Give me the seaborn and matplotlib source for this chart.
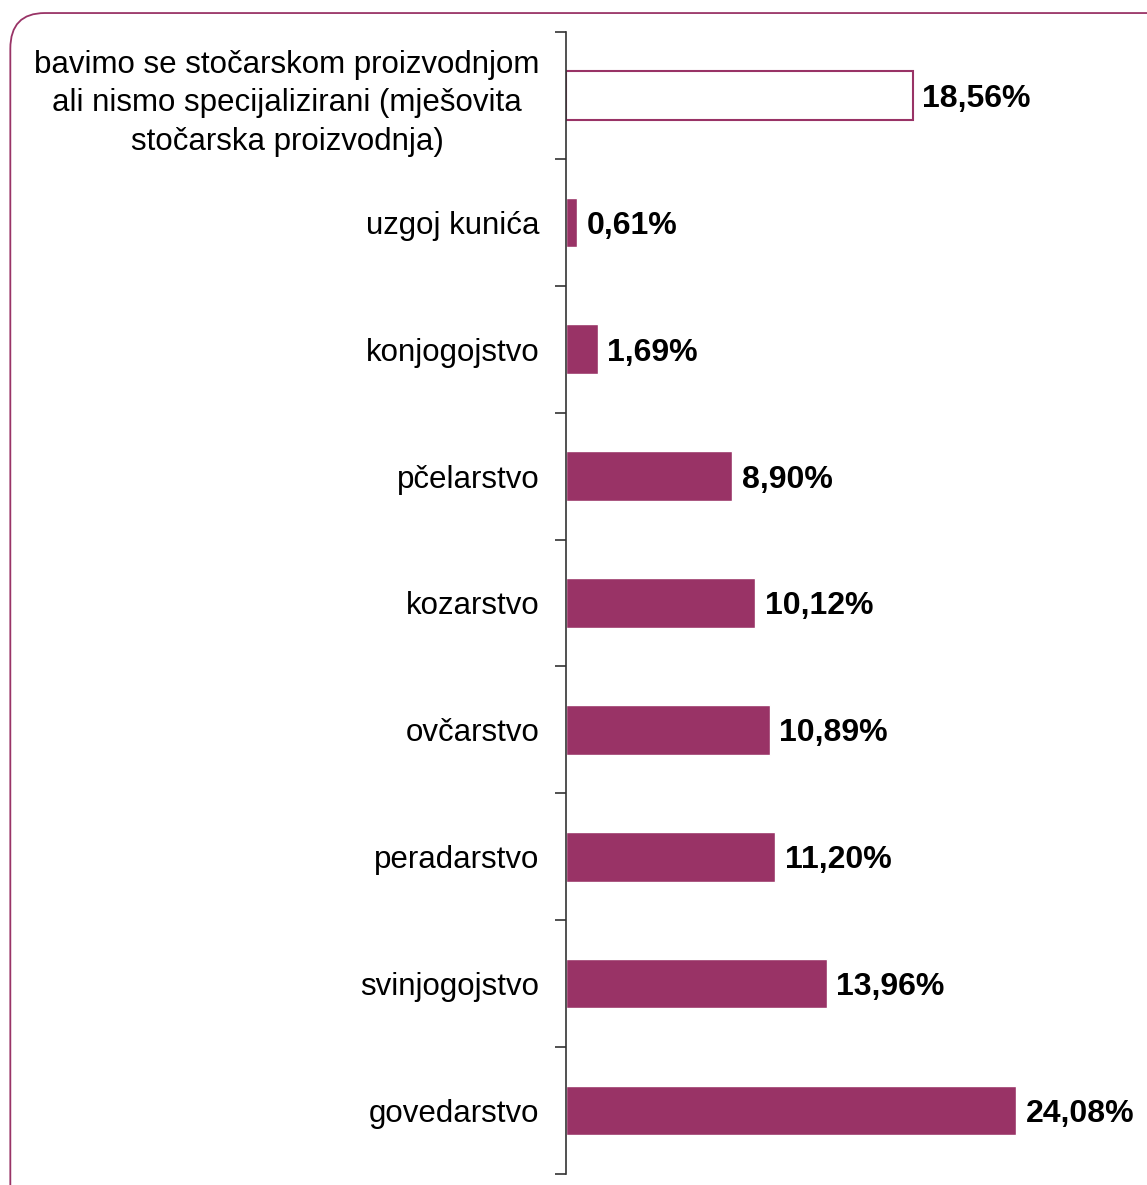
import pandas as pd
import seaborn as sns
import matplotlib.pyplot as plt
from matplotlib.patches import FancyBboxPatch
from matplotlib.ticker import FixedLocator

categories = [
    "bavimo se stočarskom proizvodnjom\nali nismo specijalizirani (mješovita\nstočarska proizvodnja)",
    "uzgoj kunića",
    "konjogojstvo",
    "pčelarstvo",
    "kozarstvo",
    "ovčarstvo",
    "peradarstvo",
    "svinjogojstvo",
    "govedarstvo",
]
values = [18.56, 0.61, 1.69, 8.90, 10.12, 10.89, 11.20, 13.96, 24.08]
labels = ["18,56%", "0,61%", "1,69%", "8,90%", "10,12%", "10,89%", "11,20%", "13,96%", "24,08%"]

df = pd.DataFrame({"cat": categories, "val": values})

sns.set_style("white")
plt.rcParams["font.family"] = ["Liberation Sans", "DejaVu Sans"]
plt.rcParams["text.color"] = "black"
plt.rcParams["ytick.color"] = "black"

purple = "#993366"
fig = plt.figure(figsize=(11.47, 11.85), dpi=100)
ax = fig.add_axes([0.4935, 0.0093, 0.4889, 0.9637])

sns.barplot(data=df, y="cat", x="val", orient="h", color=purple, width=0.39,
            saturation=1, ax=ax)
bars = ax.patches
bars[0].set_facecolor("white")
bars[0].set_edgecolor(purple)
bars[0].set_linewidth(1.5)

for bar, lab in zip(bars, labels):
    ax.text(bar.get_width() + 0.5, bar.get_y() + bar.get_height() / 2, lab,
            va="center_baseline", ha="left", fontsize=23, fontweight="bold", color="black")

ax.set_xlim(0, 30)
ax.set_ylim(len(categories) - 0.5, -0.5)
ax.set_xlabel("")
ax.set_ylabel("")
ax.set_xticks([])
for s in ["top", "right", "bottom"]:
    ax.spines[s].set_visible(False)
ax.spines["left"].set_color("#333333")
ax.spines["left"].set_linewidth(1.2)
ax.yaxis.set_minor_locator(FixedLocator([i - 0.5 for i in range(len(categories) + 1)]))
ax.tick_params(axis="y", which="major", length=0, labelsize=22.5, pad=19)
ax.tick_params(axis="y", which="minor", length=8, width=1.2, color="#333333", left=True)
for t in ax.get_yticklabels():
    t.set_multialignment("center")
    t.set_linespacing(1.38)

border = FancyBboxPatch((0.009, -0.05), 1.05, 1.039, boxstyle="round,pad=0,rounding_size=0.03",
                        transform=fig.transFigure, facecolor="none", edgecolor=purple,
                        linewidth=1.3, clip_on=False)
fig.patches.append(border)

fig.savefig("out.png", dpi=100)
